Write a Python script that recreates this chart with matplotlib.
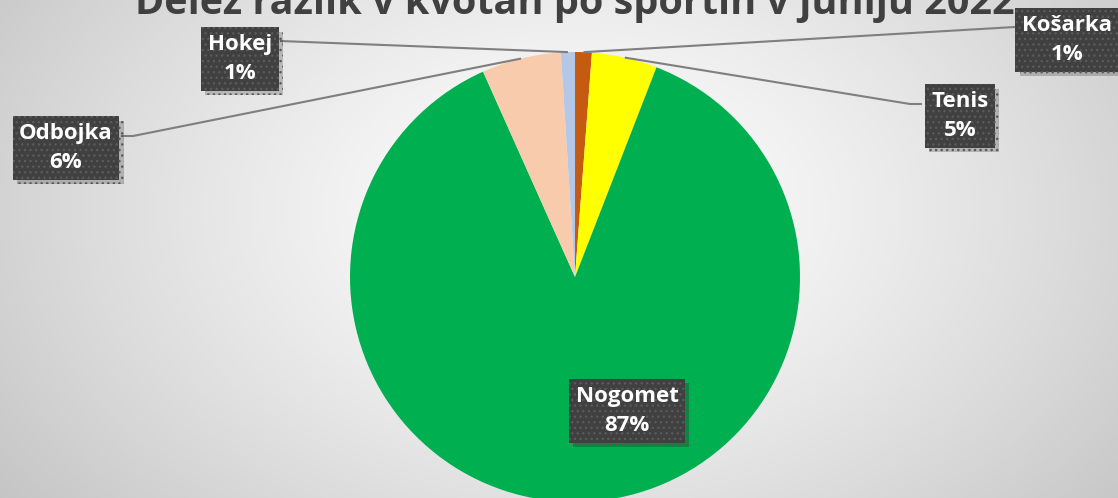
import numpy as np
import matplotlib
matplotlib.use("Agg")
import matplotlib.pyplot as plt
import matplotlib.patheffects as pe

# ---- data ----
categories = ["Košarka", "Tenis", "Nogomet", "Odbojka", "Hokej"]
values = [1.2, 4.7, 87.4, 5.7, 1.0]
pct_labels = ["1%", "5%", "87%", "6%", "1%"]
colors = ["#C55A11", "#FFFF00", "#00B050", "#F8CBAD", "#B4C7E7"]
title = "Delež razlik v kvotah po športih v juniju 2022"

plt.rcParams["hatch.color"] = "#5a5a5a"
plt.rcParams["hatch.linewidth"] = 1.0

W, H = 1118, 498
fig = plt.figure(figsize=(W / 100, H / 100), dpi=100)

# background radial gradient
bg = fig.add_axes([0, 0, 1, 1], zorder=0)
yy, xx = np.mgrid[0:H, 0:W]
r = np.sqrt(((xx - 575) / 620.0) ** 2 + ((yy - 210) / 420.0) ** 2)
v = 1.0 - 0.19 * np.clip(r, 0, 1.2) ** 1.3
bg.imshow(np.dstack([v, v, v]), extent=[0, W, 0, H], origin="upper", aspect="auto")
bg.axis("off")

ax = fig.add_axes([0, 0, 1, 1], zorder=1)
ax.patch.set_alpha(0)
cx, cy, R = 575, H - 277, 225
wedges, _ = ax.pie(values, colors=colors, startangle=90, counterclock=False,
                   center=(cx, cy), radius=R, frame=True,
                   wedgeprops=dict(linewidth=0))
ax.set_xlim(0, W)
ax.set_ylim(0, H)
ax.set_aspect("equal")
ax.axis("off")

# label box centers (pixel coords, y from top) and leader elbow points
label_pos = {
    "Košarka": (1067, 40),
    "Tenis": (960, 116),
    "Nogomet": (627, 411),
    "Odbojka": (66, 148),
    "Hokej": (240, 59),
}
leaders = {
    "Košarka": [(1015, 27)],
    "Tenis": [(922, 104), (910, 104)],
    "Odbojka": [(121, 136), (133, 136)],
    "Hokej": [(280, 41)],
}

font = dict(family=["Open Sans", "DejaVu Sans"], fontweight="bold")
for w, cat, pl in zip(wedges, categories, pct_labels):
    mid = np.deg2rad((w.theta1 + w.theta2) / 2)
    ex, ey = cx + R * np.cos(mid), cy + R * np.sin(mid)
    if cat in leaders:
        pts = [(x, H - y) for x, y in leaders[cat]] + [(ex, ey)]
        ax.plot([p[0] for p in pts], [p[1] for p in pts], color="#7f7f7f",
                lw=1.5, zorder=2, solid_capstyle="butt")
    px, py = label_pos[cat]
    t = ax.text(px, H - py, f"{cat}\n{pl}", ha="center", va="center",
                color="white", fontsize=16, linespacing=1.5, zorder=5,
                bbox=dict(boxstyle="square,pad=0.3", facecolor="#404040",
                          edgecolor="#5a5a5a", linewidth=0, hatch="..."),
                **font)
    t.get_bbox_patch().set_path_effects([
        pe.SimplePatchShadow(offset=(3, -3), shadow_rgbFace="#000000", alpha=0.2),
        pe.Normal()])

ax.text(575, H - 14, title, ha="center", va="baseline", fontsize=28.5,
        color="#404040", zorder=6, **font)

fig.savefig("out.png", dpi=100)
